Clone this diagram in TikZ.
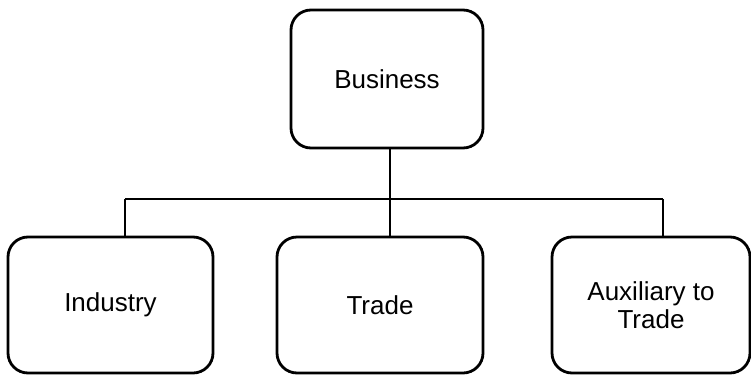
\documentclass[tikz,border=0pt]{standalone}
\usepackage{fontspec}
\setmainfont{Liberation Sans}
\begin{document}
\begin{tikzpicture}[x=1pt,y=-1pt,
  box/.style={draw=black,line width=2.8pt,rounded corners=20pt,fill=white,
    align=center,font=\fontsize{26}{28}\selectfont,inner sep=0pt},
  conn/.style={draw=black,line width=2.6pt}]
\useasboundingbox (0,0) rectangle (751,375);
\node[box,minimum width=192pt,minimum height=138pt] (bus) at (387,79) {Business};
\node[box,minimum width=205pt,minimum height=136pt] (ind) at (110.5,305) {Industry};
\node[box,minimum width=206pt,minimum height=136pt] (tra) at (380,305) {Trade};
\node[box,minimum width=198pt,minimum height=136pt] (aux) at (651,305) {Auxiliary to\\Trade};
\coordinate (jl) at (125,199);
\coordinate (jr) at (663,199);
\coordinate (jm) at (390,199);
\draw[conn] (jl) -- (jr);
\draw[conn] (jl) -- (jl |- ind.north);
\draw[conn] (jr) -- (jr |- aux.north);
\draw[conn] (jm |- bus.south) -- (jm |- tra.north);
\end{tikzpicture}
\end{document}
